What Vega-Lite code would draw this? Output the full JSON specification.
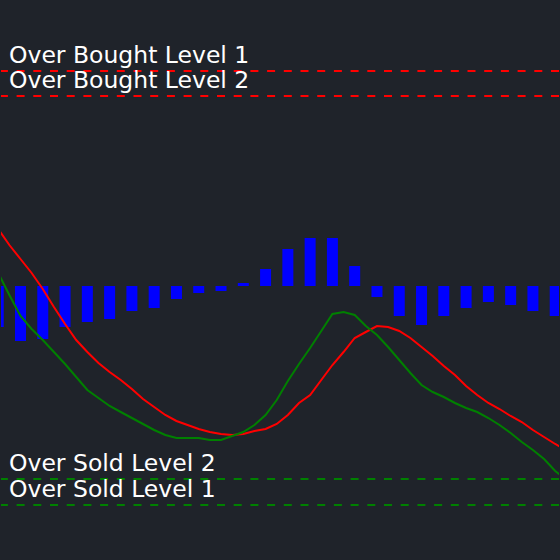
{
  "$schema": "https://vega.github.io/schema/vega-lite/v6.json",
  "width": 560,
  "height": 560,
  "autosize": {"type": "fit", "contains": "padding"},
  "padding": 0,
  "background": "#1f232a",
  "config": {"view": {"stroke": null, "fill": "#1f232a"}},
  "datasets": {
    "bars": [
      {"i": 0, "v": -41}, {"i": 1, "v": -55}, {"i": 2, "v": -53}, {"i": 3, "v": -41},
      {"i": 4, "v": -36}, {"i": 5, "v": -33}, {"i": 6, "v": -25}, {"i": 7, "v": -22},
      {"i": 8, "v": -13}, {"i": 9, "v": -7}, {"i": 10, "v": -5}, {"i": 11, "v": 3},
      {"i": 12, "v": 17}, {"i": 13, "v": 37}, {"i": 14, "v": 48}, {"i": 15, "v": 48},
      {"i": 16, "v": 20}, {"i": 17, "v": -11}, {"i": 18, "v": -30}, {"i": 19, "v": -39},
      {"i": 20, "v": -30}, {"i": 21, "v": -22}, {"i": 22, "v": -16}, {"i": 23, "v": -19},
      {"i": 24, "v": -25}, {"i": 25, "v": -30}
    ],
    "lines": [
      {"t": 0, "red": 57, "green": 13}, {"t": 0.5, "red": 41, "green": -9},
      {"t": 1, "red": 27, "green": -30}, {"t": 1.5, "red": 13, "green": -43},
      {"t": 2, "red": -3, "green": -54}, {"t": 2.5, "red": -21, "green": -66},
      {"t": 3, "red": -38, "green": -78}, {"t": 3.5, "red": -54, "green": -91},
      {"t": 4, "red": -66, "green": -104}, {"t": 4.5, "red": -77, "green": -112},
      {"t": 5, "red": -86, "green": -120}, {"t": 5.5, "red": -94, "green": -126},
      {"t": 6, "red": -103, "green": -132}, {"t": 6.5, "red": -113, "green": -138},
      {"t": 7, "red": -121, "green": -144}, {"t": 7.5, "red": -129, "green": -149},
      {"t": 8, "red": -135, "green": -152}, {"t": 8.5, "red": -139, "green": -152},
      {"t": 9, "red": -143, "green": -152}, {"t": 9.5, "red": -146, "green": -154},
      {"t": 10, "red": -148, "green": -154}, {"t": 10.5, "red": -149, "green": -150},
      {"t": 11, "red": -148, "green": -146}, {"t": 11.5, "red": -145, "green": -139},
      {"t": 12, "red": -143, "green": -129}, {"t": 12.5, "red": -138, "green": -114},
      {"t": 13, "red": -129, "green": -95}, {"t": 13.5, "red": -117, "green": -78},
      {"t": 14, "red": -109, "green": -62}, {"t": 14.5, "red": -94, "green": -45},
      {"t": 15, "red": -79, "green": -28}, {"t": 15.5, "red": -66, "green": -26},
      {"t": 16, "red": -52, "green": -29}, {"t": 16.5, "red": -46, "green": -40},
      {"t": 17, "red": -40, "green": -49}, {"t": 17.5, "red": -41, "green": -61},
      {"t": 18, "red": -45, "green": -74}, {"t": 18.5, "red": -52, "green": -87},
      {"t": 19, "red": -61, "green": -99}, {"t": 19.5, "red": -70, "green": -106},
      {"t": 20, "red": -80, "green": -111}, {"t": 20.5, "red": -89, "green": -117},
      {"t": 21, "red": -100, "green": -122}, {"t": 21.5, "red": -109, "green": -126},
      {"t": 22, "red": -117, "green": -132}, {"t": 22.5, "red": -123, "green": -139},
      {"t": 23, "red": -130, "green": -147}, {"t": 23.5, "red": -136, "green": -156},
      {"t": 24, "red": -144, "green": -164}, {"t": 24.5, "red": -151, "green": -173},
      {"t": 25, "red": -158, "green": -185}, {"t": 25.5, "red": -164, "green": -194}
    ],
    "levels": [
      {"label": "Over Bought Level 1", "level": 215, "kind": "bought"},
      {"label": "Over Bought Level 2", "level": 190, "kind": "bought"},
      {"label": "Over Sold Level 2", "level": -193, "kind": "sold"},
      {"label": "Over Sold Level 1", "level": -219, "kind": "sold"}
    ]
  },
  "layer": [
    {
      "data": {"name": "bars"},
      "mark": {"type": "bar", "color": "#0000ff", "size": 11, "clip": true, "orient": "vertical"},
      "encoding": {
        "x": {"field": "i", "type": "quantitative", "scale": {"domain": [0.125, 25.17], "nice": false, "zero": false, "padding": 0}, "axis": null},
        "y": {"field": "v", "type": "quantitative", "scale": {"domain": [-274, 286], "nice": false, "zero": false, "padding": 0}, "axis": null},
        "y2": {"datum": 0}
      }
    },
    {
      "data": {"name": "lines"},
      "mark": {"type": "line", "color": "#ff0000", "strokeWidth": 2, "clip": true},
      "encoding": {
        "x": {"field": "t", "type": "quantitative"},
        "y": {"field": "red", "type": "quantitative"}
      }
    },
    {
      "data": {"name": "lines"},
      "mark": {"type": "line", "color": "#008000", "strokeWidth": 2, "clip": true},
      "encoding": {
        "x": {"field": "t", "type": "quantitative"},
        "y": {"field": "green", "type": "quantitative"}
      }
    },
    {
      "data": {"name": "levels"},
      "mark": {"type": "rule", "strokeWidth": 2, "strokeDash": [8, 8.7]},
      "encoding": {
        "y": {"field": "level", "type": "quantitative"},
        "color": {"field": "kind", "type": "nominal", "scale": {"domain": ["bought", "sold"], "range": ["#ff0000", "#008000"]}, "legend": null}
      }
    },
    {
      "data": {"name": "levels"},
      "mark": {"type": "text", "align": "left", "baseline": "alphabetic", "dy": -8, "font": "DejaVu Sans", "fontSize": 23.5, "color": "#ffffff"},
      "encoding": {
        "x": {"datum": 0.483},
        "y": {"field": "level", "type": "quantitative"},
        "text": {"field": "label"}
      }
    }
  ]
}
